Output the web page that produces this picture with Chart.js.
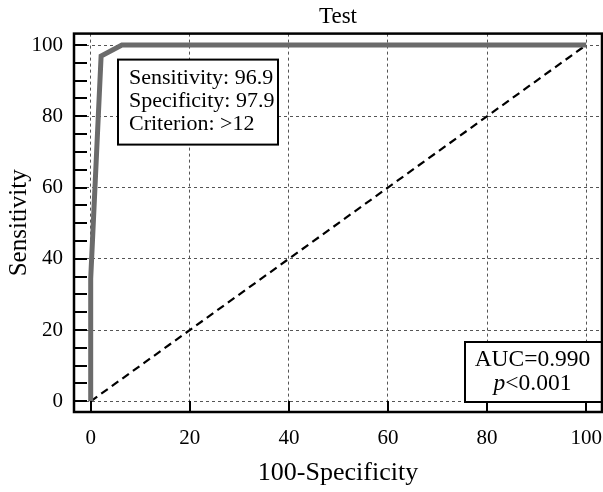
<!DOCTYPE html>
<html>
<head>
<meta charset="utf-8">
<title>ROC curve - Test</title>
<script src="https://cdn.jsdelivr.net/npm/chart.js@4/dist/chart.umd.min.js"></script>
<style>
  body { margin: 0; background: #fff; }
  canvas { display: block; }
</style>
</head>
<body>
<canvas id="roc" width="603" height="492"></canvas>
<script>
// ROC points (100-Specificity, Sensitivity)
const rocX = [0, 0, 2.1, 6.3, 100];
const rocY = [0, 34.4, 96.9, 100, 100];
// reference diagonal
const diagX = [0, 100];
const diagY = [0, 100];

const xTicks = [0, 20, 40, 60, 80, 100];
const yTicks = [0, 20, 40, 60, 80, 100];
const yMinorTicks = [0, 5, 10, 15, 20, 25, 30, 35, 40, 45, 50, 55, 60, 65, 70, 75, 80, 85, 90, 95, 100];

const statLines = ['Sensitivity: 96.9', 'Specificity: 97.9', 'Criterion: >12'];
const aucText = 'AUC=0.990';
const pText = '<0.001';

const SERIF = '"Liberation Serif", "Times New Roman", serif';

// frame, inward ticks and the two text boxes
const decorations = {
  id: 'decorations',
  afterDraw(chart) {
    const { ctx, chartArea: a, scales } = chart;
    ctx.save();

    // inward ticks
    ctx.strokeStyle = '#000';
    ctx.lineWidth = 2;
    ctx.beginPath();
    yMinorTicks.forEach(v => {
      const py = Math.round(scales.y.getPixelForValue(v));
      ctx.moveTo(a.left, py);
      ctx.lineTo(a.left + 13, py);
    });
    xTicks.forEach(v => {
      const px = Math.round(scales.x.getPixelForValue(v));
      ctx.moveTo(px, a.bottom);
      ctx.lineTo(px, a.bottom - 11);
    });
    ctx.stroke();

    // stats box
    ctx.fillStyle = '#fff';
    ctx.lineWidth = 2;
    const b1 = { x: a.left + 44, y: a.top + 26, w: 160, h: 85 };
    ctx.fillRect(b1.x, b1.y, b1.w, b1.h);
    ctx.strokeRect(b1.x, b1.y, b1.w, b1.h);
    ctx.fillStyle = '#000';
    ctx.font = '22px ' + SERIF;
    ctx.textAlign = 'left';
    ctx.textBaseline = 'alphabetic';
    statLines.forEach((t, i) => ctx.fillText(t, b1.x + 11, b1.y + 24 + i * 23));

    // AUC box, sits on the bottom-right corner
    const b2 = { x: a.right - 137, y: a.bottom - 70, w: 137, h: 60 };
    ctx.fillStyle = '#fff';
    ctx.fillRect(b2.x, b2.y, b2.w, b2.h);
    ctx.strokeRect(b2.x, b2.y, b2.w, b2.h);
    ctx.fillStyle = '#000';
    const cx = b2.x + b2.w / 2 - 1;
    ctx.font = '23.5px ' + SERIF;
    ctx.textAlign = 'center';
    ctx.fillText(aucText, cx, b2.y + 24);
    ctx.font = 'italic 23.5px ' + SERIF;
    const wp = ctx.measureText('p').width;
    ctx.font = '23.5px ' + SERIF;
    const wr = ctx.measureText(pText).width;
    const sx = cx - (wp + wr) / 2;
    ctx.textAlign = 'left';
    ctx.font = 'italic 23.5px ' + SERIF;
    ctx.fillText('p', sx, b2.y + 48);
    ctx.font = '23.5px ' + SERIF;
    ctx.fillText(pText, sx + wp, b2.y + 48);

    // frame
    ctx.lineWidth = 2.5;
    ctx.strokeRect(a.left, a.top, a.right - a.left, a.bottom - a.top);
    ctx.restore();
  }
};

const gridOpts = { color: '#555', lineWidth: 1, drawTicks: false };

new Chart(document.getElementById('roc'), {
  type: 'line',
  data: {
    datasets: [
      {
        label: 'Test',
        data: rocX.map((x, i) => ({ x, y: rocY[i] })),
        borderColor: '#6b6b6b',
        borderWidth: 5,
        pointRadius: 0,
        tension: 0,
        fill: false
      },
      {
        label: 'Reference',
        data: diagX.map((x, i) => ({ x, y: diagY[i] })),
        borderColor: '#000',
        borderWidth: 2.2,
        borderDash: [8, 5],
        pointRadius: 0,
        fill: false
      }
    ]
  },
  options: {
    responsive: false,
    animation: false,
    devicePixelRatio: 1,
    layout: { padding: { right: 1, left: 0, bottom: 0, top: 0 } },
    plugins: {
      legend: { display: false },
      tooltip: { enabled: false },
      title: {
        display: true,
        text: 'Test',
        color: '#000',
        fullSize: false, // centre over the plot, not the canvas
        font: { family: SERIF, size: 23, weight: 'normal' },
        padding: { top: 3, bottom: 3 }
      }
    },
    scales: {
      x: {
        type: 'linear',
        min: -3.37,
        max: 103.2,
        afterBuildTicks: s => { s.ticks = xTicks.map(v => ({ value: v })); },
        // no extra side padding for the end labels
        afterFit: s => { s.height = 80; s.paddingLeft = 0; s.paddingRight = 0; },
        grid: gridOpts,
        border: { display: false, dash: [3, 3] },
        ticks: { color: '#000', padding: 14, maxRotation: 0, font: { family: SERIF, size: 21 } },
        title: {
          display: true,
          text: '100-Specificity',
          color: '#000',
          font: { family: SERIF, size: 26 },
          padding: { top: 0, bottom: 3 }
        }
      },
      y: {
        type: 'linear',
        min: -3.0,
        max: 103.2,
        afterBuildTicks: s => { s.ticks = yTicks.map(v => ({ value: v })); },
        afterFit: s => { s.width = 74; s.paddingTop = 0; s.paddingBottom = 0; },
        grid: gridOpts,
        border: { display: false, dash: [3, 3] },
        ticks: { color: '#000', padding: 11, font: { family: SERIF, size: 21 } },
        title: {
          display: true,
          text: 'Sensitivity',
          color: '#000',
          font: { family: SERIF, size: 25 },
          padding: { top: 4, bottom: 0 }
        }
      }
    }
  },
  plugins: [decorations]
});
</script>
</body>
</html>
